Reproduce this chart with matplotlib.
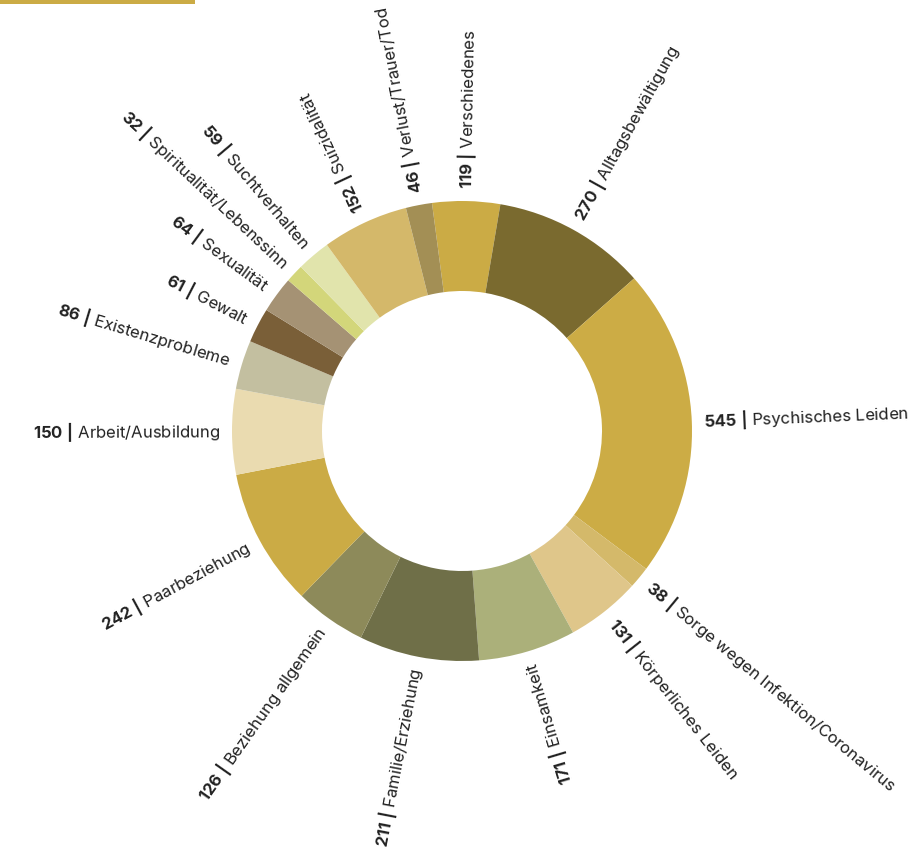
import numpy as np
import matplotlib
matplotlib.use("Agg")
import matplotlib.pyplot as plt
from matplotlib.patches import Rectangle

plt.rcParams["font.family"] = ["Inter", "DejaVu Sans"]
plt.rcParams["mathtext.fontset"] = "custom"
plt.rcParams["mathtext.rm"] = "Inter"
plt.rcParams["mathtext.bf"] = "Inter:bold"

# clockwise from the top
categories = ["Verschiedenes", "Alltagsbewältigung", "Psychisches Leiden",
              "Sorge wegen Infektion/Coronavirus", "Körperliches Leiden",
              "Einsamkeit", "Familie/Erziehung", "Beziehung allgemein",
              "Paarbeziehung", "Arbeit/Ausbildung", "Existenzprobleme",
              "Gewalt", "Sexualität", "Spiritualität/Lebenssinn",
              "Suchtverhalten", "Suizidalität", "Verlust/Trauer/Tod"]
values = [119, 270, 545, 38, 131, 171, 211, 126, 242, 150, 86, 61, 64, 32, 59, 152, 46]
colors = ["#CBAB45", "#7A6A2F", "#CCAC45", "#D4B96A", "#DFC68A",
          "#ABB07A", "#6F6F48", "#8D8A5A", "#CBAB45", "#EADBB0",
          "#C3BFA0", "#7A5F38", "#A59274", "#D3D67A", "#E1E4AC",
          "#D4B86A", "#A38F55"]

W, H = 910, 855
fig = plt.figure(figsize=(W / 100, H / 100), dpi=100)
ax = fig.add_axes([0, 0, 1, 1])

cx, cy = 462, H - 431
R, width = 230, 90
start = 97.5

ax.pie(values, colors=colors, startangle=start, counterclock=False,
       radius=R, center=(cx, cy), frame=True,
       wedgeprops=dict(width=width, linewidth=0))
ax.set_xlim(0, W)
ax.set_ylim(0, H)
ax.set_aspect("equal")
ax.axis("off")

total = sum(values)
cum = 0
for cat, v in zip(categories, values):
    mid = start - (cum + v / 2) / total * 360
    cum += v
    ang = mid % 360
    rad = np.deg2rad(ang)
    r_lab = R + 12
    x = cx + r_lab * np.cos(rad)
    y = cy + r_lab * np.sin(rad)
    label = r"$\mathbf{%d}$ $\mathbf{|}$ %s" % (v, cat)
    # left half reads towards the ring
    if 120 < ang < 300:
        ax.text(x, y, label, rotation=ang - 180, rotation_mode="anchor",
                ha="right", va="center", fontsize=12, color="#222222")
    else:
        ax.text(x, y, label, rotation=ang, rotation_mode="anchor",
                ha="left", va="center", fontsize=12, color="#222222")

ax.add_patch(Rectangle((0, H - 4), 195, 4, color="#CBAB45", lw=0))

fig.savefig("out.png", dpi=100)
